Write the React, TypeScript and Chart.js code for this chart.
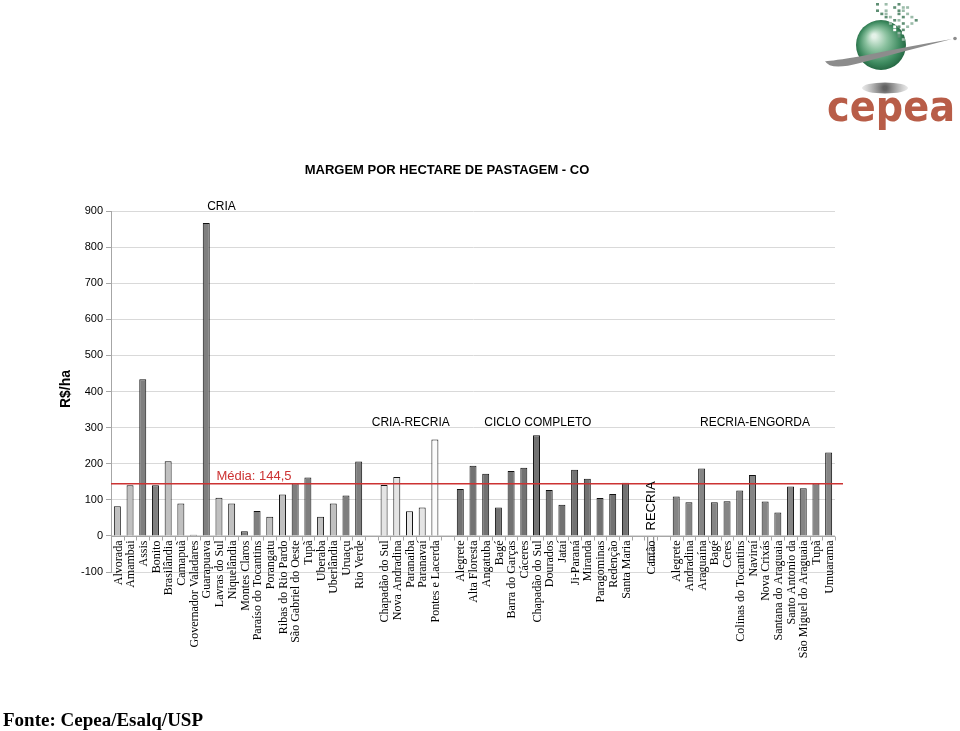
import React, { useEffect, useRef } from 'react';
import { Chart, registerables } from 'chart.js';

Chart.register(...registerables);

// ---------- DATA ----------
const criaLabels = ['Alvorada', 'Amambai', 'Assis', 'Bonito', 'Brasilândia', 'Camapuã', 'Governador Valadares', 'Guarapuava', 'Lavras do Sul', 'Niquelândia', 'Montes Claros', 'Paraíso do Tocantins', 'Porangatu', 'Ribas do Rio Pardo', 'São Gabriel do Oeste', 'Tupã', 'Uberaba', 'Uberlândia', 'Uruaçu', 'Rio Verde'];
const criaValues = [82, 140, 434, 140, 207, 90, 3, 867, 106, 90, 13, 69, 53, 115, 146, 162, 53, 90, 112, 206];

const criaRecriaLabels = ['Chapadão do Sul', 'Nova Andradina', 'Paranaíba', 'Paranavaí', 'Pontes e Lacerda'];
const criaRecriaValues = [141, 163, 68, 79, 267];

const cicloLabels = ['Alegrete', 'Alta Floresta', 'Angatuba', 'Bagé', 'Barra do Garças', 'Cáceres', 'Chapadão do Sul', 'Dourados', 'Jataí', 'Ji-Paraná', 'Miranda', 'Paragominas', 'Redenção', 'Santa Maria'];
const cicloValues = [130, 194, 172, 79, 180, 189, 279, 127, 86, 183, 158, 105, 116, 147];

const recriaLabels = ['Cantão'];
const recriaValues = [-75];

const engordaLabels = ['Alegrete', 'Andradina', 'Araguaína', 'Bagé', 'Ceres', 'Colinas do Tocantins', 'Naviraí', 'Nova Crixás', 'Santana do Araguaia', 'Santo Antonio da', 'São Miguel do Araguaia', 'Tupã', 'Umuarama'];
const engordaValues = [109, 93, 187, 93, 96, 126, 169, 95, 65, 137, 132, 146, 231];

const groupNames = ['CRIA', 'CRIA-RECRIA', 'CICLO COMPLETO', 'RECRIA', 'RECRIA-ENGORDA'];
const mediaValue = 144.5;
const mediaText = 'Média: 144,5';
const yMin = -100;
const yMax = 900;
const yStep = 100;
const titleText = 'MARGEM POR HECTARE DE PASTAGEM - CO';
const yTitleText = 'R$/ha';
const sourceText = 'Fonte: Cepea/Esalq/USP';

// ---------- BUILD ----------
const groups = [
  { labels: criaLabels, values: criaValues },
  { labels: criaRecriaLabels, values: criaRecriaValues },
  { labels: cicloLabels, values: cicloValues },
  { labels: recriaLabels, values: recriaValues },
  { labels: engordaLabels, values: engordaValues },
];

const categories: string[] = [];
const values: (number | null)[] = [];
const groupOf: number[] = [];
const posInGroup: number[] = [];
groups.forEach((g, gi) => {
  if (gi > 0) {
    categories.push('');
    values.push(null);
    groupOf.push(-1);
    posInGroup.push(-1);
  }
  g.labels.forEach((l, i) => {
    categories.push(l);
    values.push(g.values[i]);
    groupOf.push(gi);
    posInGroup.push(i);
  });
});

function barColor(i: number): string {
  const g = groupOf[i];
  const p = posInGroup[i];
  if (g === 0) return Math.floor(p / 2) % 2 === 0 ? '#c0c0c0' : '#7f7f7f';
  if (g === 1) return p === criaRecriaLabels.length - 1 ? '#fbfbfb' : '#e4e4e4';
  if (g === 2) return '#727272';
  if (g === 3) return '#ffffff';
  return '#858585';
}
const colors = categories.map((_, i) => barColor(i));

function groupStart(gi: number): number {
  return groupOf.indexOf(gi);
}

const overlayPlugin = {
  id: 'overlay',
  afterDatasetsDraw(chart: any) {
    const { ctx, chartArea, scales } = chart;
    const x = scales.x;
    const y = scales.y;
    const y0 = Math.round(y.getPixelForValue(0)) + 0.5;
    const n = categories.length;
    const w = (chartArea.right - chartArea.left) / n;
    ctx.save();
    // category axis at 0
    ctx.strokeStyle = '#a6a6a6';
    ctx.lineWidth = 1;
    ctx.beginPath();
    ctx.moveTo(chartArea.left, y0);
    ctx.lineTo(chartArea.right, y0);
    for (let i = 0; i <= n; i++) {
      const bx = Math.round(chartArea.left + i * w) + 0.5;
      ctx.moveTo(bx, y0);
      ctx.lineTo(bx, y0 + 4);
    }
    ctx.stroke();

    // category labels
    ctx.fillStyle = '#000';
    ctx.font = '12px "Liberation Serif", "Times New Roman", serif';
    ctx.textAlign = 'right';
    ctx.textBaseline = 'middle';
    categories.forEach((lab, i) => {
      if (!lab) return;
      ctx.save();
      ctx.translate(x.getPixelForValue(i) + 1, y0 + 4);
      ctx.rotate(-Math.PI / 2);
      ctx.fillText(lab, 0, 0);
      ctx.restore();
    });

    // media line
    const ym = y.getPixelForValue(mediaValue);
    ctx.strokeStyle = '#cc3333';
    ctx.lineWidth = 1.5;
    ctx.beginPath();
    ctx.moveTo(chartArea.left, ym);
    ctx.lineTo(chartArea.right + 8, ym);
    ctx.stroke();
    ctx.fillStyle = '#cc3333';
    ctx.font = '13px "Liberation Sans", Arial, sans-serif';
    ctx.textAlign = 'left';
    ctx.textBaseline = 'alphabetic';
    ctx.fillText(mediaText, x.getPixelForValue(7.8), ym - 4);

    // group annotations
    ctx.fillStyle = '#000';
    ctx.font = '12px "Liberation Sans", Arial, sans-serif';
    ctx.textAlign = 'center';
    ctx.textBaseline = 'middle';
    ctx.fillText(groupNames[0], x.getPixelForValue(groupStart(0) + 8.2), y.getPixelForValue(911));
    ctx.fillText(groupNames[1], x.getPixelForValue(groupStart(1) + 2.1), y.getPixelForValue(313));
    ctx.fillText(groupNames[2], x.getPixelForValue(groupStart(2) + 6.1), y.getPixelForValue(313));
    ctx.fillText(groupNames[4], x.getPixelForValue(groupStart(4) + 6.2), y.getPixelForValue(313));
    ctx.save();
    ctx.font = '13px "Liberation Sans", Arial, sans-serif';
    ctx.translate(x.getPixelForValue(groupStart(3)) + 1, y.getPixelForValue(83));
    ctx.rotate(-Math.PI / 2);
    ctx.fillText(groupNames[3], 0, 0);
    ctx.restore();
    ctx.restore();
  },
  afterDraw(chart: any) {
    const { ctx } = chart;
    ctx.save();
    // title
    ctx.fillStyle = '#000';
    ctx.font = 'bold 13px "Liberation Sans", Arial, sans-serif';
    ctx.textAlign = 'center';
    ctx.textBaseline = 'middle';
    ctx.fillText(titleText, 447, 170);
    // y title
    ctx.save();
    ctx.font = 'bold 14px "Liberation Sans", Arial, sans-serif';
    ctx.translate(66, 389);
    ctx.rotate(-Math.PI / 2);
    ctx.fillText(yTitleText, 0, 0);
    ctx.restore();
    // source
    ctx.font = 'bold 19px "Liberation Serif", "Times New Roman", serif';
    ctx.textAlign = 'left';
    ctx.textBaseline = 'alphabetic';
    ctx.fillText(sourceText, 3, 726);
    drawLogo(ctx);
    ctx.restore();
  },
};

function drawLogo(ctx: CanvasRenderingContext2D) {
  ctx.save();
  // shadow
  const sg = ctx.createRadialGradient(885, 88, 2, 885, 88, 23);
  sg.addColorStop(0, 'rgba(90,90,90,0.95)');
  sg.addColorStop(1, 'rgba(150,150,150,0.2)');
  ctx.fillStyle = sg;
  ctx.beginPath();
  ctx.ellipse(885, 88, 23, 5.5, 0, 0, Math.PI * 2);
  ctx.fill();
  // sphere
  const g = ctx.createRadialGradient(874, 36, 2, 881, 45, 27);
  g.addColorStop(0, '#e4f2e8');
  g.addColorStop(0.35, '#8cc2a0');
  g.addColorStop(0.75, '#3d8a5f');
  g.addColorStop(1, '#1f5f3c');
  ctx.fillStyle = g;
  ctx.beginPath();
  ctx.arc(881, 45, 25, 0, Math.PI * 2);
  ctx.fill();
  // pixel squares
  const cells = [
    [0, 0], [2, 0], [3, 0], [5, 0], [7, 1], [1, 1], [4, 1], [6, 1], [8, 2], [0, 2], [2, 2], [3, 2], [5, 2], [6, 2], [9, 3],
    [1, 3], [2, 3], [4, 3], [5, 3], [7, 3], [10, 4], [2, 4], [3, 4], [4, 4], [6, 4], [8, 4], [3, 5], [4, 5], [5, 5], [7, 5],
    [9, 5], [3, 6], [5, 6], [6, 6], [8, 6], [4, 7], [5, 7], [7, 7], [4, 8], [6, 8], [5, 9], [6, 9], [5, 10], [6, 11],
  ];
  cells.forEach(([cx, cy], k) => {
    ctx.fillStyle = k % 3 === 0 ? '#5f8f74' : k % 3 === 1 ? '#9cbcaa' : '#ffffff';
    ctx.fillRect(876 + cx * 4.3, 3 + cy * 3.2, 3, 2.6);
  });
  // orbit swoosh
  ctx.fillStyle = '#8c8c8c';
  ctx.beginPath();
  ctx.moveTo(825, 61);
  ctx.quadraticCurveTo(830, 71, 860, 63);
  ctx.quadraticCurveTo(905, 51, 952, 39);
  ctx.quadraticCurveTo(905, 47, 862, 56);
  ctx.quadraticCurveTo(826, 62, 825, 61);
  ctx.fill();
  ctx.beginPath();
  ctx.arc(955, 38.5, 1.8, 0, Math.PI * 2);
  ctx.fill();
  // cepea text
  ctx.fillStyle = '#b85d48';
  ctx.font = 'bold 42px "DejaVu Sans", sans-serif';
  ctx.textAlign = 'left';
  ctx.textBaseline = 'alphabetic';
  const tw = ctx.measureText('cepea').width;
  ctx.translate(827, 121);
  ctx.scale(128 / tw, 1);
  ctx.fillText('cepea', 0, 0);
  ctx.restore();
}

export default function App() {
  const ref = useRef<HTMLCanvasElement | null>(null);
  useEffect(() => {
    if (!ref.current) return;
    const chart = new Chart(ref.current, {
      type: 'bar',
      data: {
        labels: categories,
        datasets: [
          {
            data: values,
            backgroundColor: colors,
            borderColor: '#111111',
            borderWidth: 1,
            categoryPercentage: 1,
            barPercentage: 0.55,
            inflateAmount: 0,
          },
        ],
      },
      options: {
        animation: false,
        responsive: true,
        maintainAspectRatio: false,
        layout: { padding: { left: 51, right: 125, top: 211, bottom: 159 } },
        plugins: { legend: { display: false }, tooltip: { enabled: false }, title: { display: false } },
        scales: {
          x: { display: false, offset: true },
          y: {
            min: yMin,
            max: yMax,
            ticks: {
              stepSize: yStep,
              color: '#000',
              padding: 3,
              font: { family: '"Liberation Sans", Arial, sans-serif', size: 11 },
            },
            grid: { color: '#d9d9d9', tickLength: 5, tickColor: '#a6a6a6' },
            border: { color: '#a6a6a6' },
            afterFit: (s: any) => {
              s.width = 60;
            },
          },
        },
      },
      plugins: [overlayPlugin],
    });
    return () => chart.destroy();
  }, []);
  return (
    <div style={{ position: 'fixed', left: 0, top: 0, width: 960, height: 731, background: '#fff' }}>
      <canvas ref={ref} />
    </div>
  );
}
